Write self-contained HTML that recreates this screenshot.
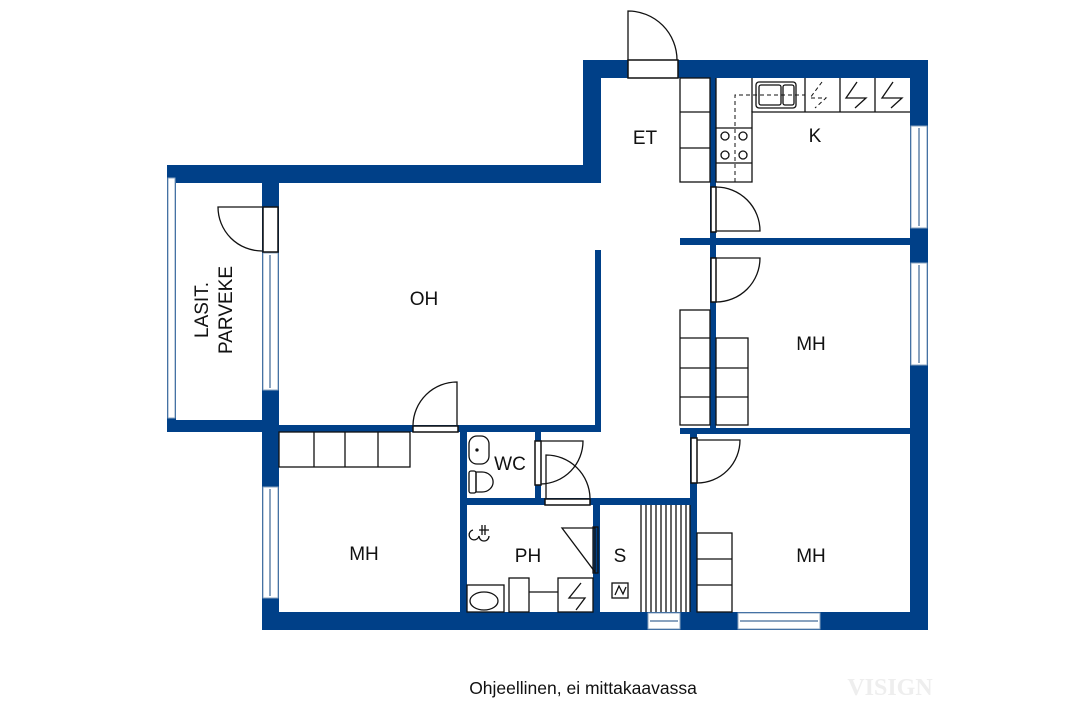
<!DOCTYPE html>
<html><head><meta charset="utf-8"><style>
html,body{margin:0;padding:0;background:#fff;}
svg{display:block;}
text{font-family:"Liberation Sans",sans-serif;fill:#111;}
</style></head><body>
<svg width="1066" height="711" viewBox="0 0 1066 711" xmlns="http://www.w3.org/2000/svg">
<g fill="#004088">
<rect x="583" y="60" width="345" height="18"/>
<rect x="583" y="60" width="18" height="122"/>
<rect x="167" y="165" width="434" height="18"/>
<rect x="167" y="165" width="9" height="267"/>
<rect x="167" y="420" width="112" height="12"/>
<rect x="262" y="165" width="17" height="465"/>
<rect x="910" y="60" width="18" height="570"/>
<rect x="262" y="612" width="666" height="18"/>
<rect x="595" y="250" width="6" height="182"/>
<rect x="262" y="425" width="339" height="7"/>
<rect x="460" y="425" width="7" height="200"/>
<rect x="460" y="498" width="237" height="7"/>
<rect x="535" y="432" width="6" height="70"/>
<rect x="593" y="505" width="7" height="110"/>
<rect x="690" y="428" width="7" height="190"/>
<rect x="680" y="428" width="230" height="6"/>
<rect x="710" y="78" width="6" height="356"/>
<rect x="680" y="238" width="230" height="7"/>
</g>
<g fill="#fff" stroke="#8aa3bf" stroke-width="1">
<rect x="263" y="253" width="15" height="137"/>
<rect x="263" y="487" width="15" height="111"/>
<rect x="168" y="178" width="7" height="240"/>
<rect x="911" y="126" width="16" height="102"/>
<rect x="911" y="263" width="16" height="102"/>
<rect x="648" y="613" width="32" height="16"/>
<rect x="738" y="613" width="82" height="16"/>
</g>
<g stroke="#8aa3bf" stroke-width="2">
<line x1="270" y1="255" x2="270" y2="388"/><line x1="270" y1="489" x2="270" y2="596"/>
<line x1="919" y1="128" x2="919" y2="226"/><line x1="919" y1="265" x2="919" y2="363"/>
<line x1="650" y1="621" x2="678" y2="621"/><line x1="740" y1="621" x2="818" y2="621"/>
</g>
<g fill="#fff" stroke="#111" stroke-width="1.5">
<rect x="628" y="60" width="50" height="18"/>
<rect x="263" y="207" width="15" height="45"/>
<rect x="711" y="187" width="5" height="45"/>
<rect x="711" y="258" width="5" height="44"/>
<rect x="691" y="438" width="6" height="45"/>
<rect x="413" y="426" width="45" height="6"/>
<rect x="535" y="441" width="6" height="44"/>
<rect x="545" y="499" width="45" height="6"/>
</g>
<g fill="none" stroke="#111" stroke-width="1.3">
<path d="M628 60 V11 A49 49 0 0 1 677 60"/>
<path d="M262 207 H218 A44 44 0 0 0 262 251"/>
<path d="M716 231 H760 A44 44 0 0 0 716 187"/>
<path d="M716 258 H760 A44 44 0 0 1 716 302"/>
<path d="M697 440 H740 A43 43 0 0 1 697 483"/>
<path d="M457 425 V382 A44 44 0 0 0 413 425"/>
<path d="M541 441 H583 A43 43 0 0 1 541 484"/>
<path d="M546 498 V455 A44 44 0 0 1 590 498"/>
<rect x="680" y="78" width="30" height="104"/>
<line x1="680" y1="112" x2="710" y2="112"/><line x1="680" y1="148" x2="710" y2="148"/>
<path d="M716 78 V182 H752 V112 H910"/>
<line x1="716" y1="128" x2="752" y2="128"/><line x1="716" y1="163" x2="752" y2="163"/>
<line x1="752" y1="78" x2="752" y2="112"/><line x1="805" y1="78" x2="805" y2="112"/>
<line x1="840" y1="78" x2="840" y2="112"/><line x1="875" y1="78" x2="875" y2="112"/>
<rect x="756" y="82" width="40" height="26" rx="3"/>
<rect x="759" y="85" width="22" height="20" rx="2"/><rect x="783" y="85" width="11" height="20" rx="2"/>
<path d="M735 182 V95 H805" stroke-dasharray="4 3" stroke-width="1"/>
<path d="M822 82 L810 98 H826 L815 108" stroke-dasharray="4 3" stroke-width="1"/>
<path d="M857 82 L846 98 H866 L855 108"/>
<path d="M893 82 L882 98 H902 L891 108"/>
<circle cx="725" cy="136" r="4"/><circle cx="743" cy="136" r="4"/>
<circle cx="725" cy="155" r="4"/><circle cx="743" cy="155" r="4"/>
<rect x="680" y="310" width="30" height="115"/>
<line x1="680" y1="338" x2="710" y2="338"/><line x1="680" y1="368" x2="710" y2="368"/><line x1="680" y1="397" x2="710" y2="397"/>
<rect x="716" y="338" width="32" height="87"/>
<line x1="716" y1="368" x2="748" y2="368"/><line x1="716" y1="397" x2="748" y2="397"/>
<rect x="279" y="432" width="131" height="35"/>
<line x1="314" y1="432" x2="314" y2="467"/><line x1="345" y1="432" x2="345" y2="467"/><line x1="378" y1="432" x2="378" y2="467"/>
<rect x="697" y="533" width="35" height="79"/>
<line x1="697" y1="559" x2="732" y2="559"/><line x1="697" y1="585" x2="732" y2="585"/>
<rect x="469" y="436" width="20" height="28" rx="8"/><circle cx="477" cy="450" r="1" fill="#111"/>
<path d="M476 472 h6 a10 9 0 0 1 0 20 h-6 z"/><rect x="469" y="471" width="7" height="22" rx="2"/>
<path d="M562 528 H595 V572 Z"/><rect x="593" y="527" width="5" height="46"/>
<rect x="558" y="578" width="35" height="34"/>
<path d="M581 583 L569 598 H585 L576 610"/>
<rect x="509" y="578" width="20" height="34"/>
<line x1="529" y1="592" x2="558" y2="592"/>
<rect x="467" y="585" width="37" height="27"/>
<ellipse cx="484" cy="601" rx="14" ry="9"/>
<path d="M473 530 a5 5 0 1 0 6 6 a5 5 0 1 0 10 0 M482 525 v10 M485 525 v10 M479 530 h10"/>
<rect x="612" y="583" width="16" height="15"/><path d="M615 595 L619 586 L623 594 L626 587"/>
</g>
<g stroke="#111" stroke-width="1.3">
<line x1="641" y1="505" x2="641" y2="612"/><line x1="646" y1="505" x2="646" y2="612"/><line x1="651" y1="505" x2="651" y2="612"/>
<line x1="656" y1="505" x2="656" y2="612"/><line x1="661" y1="505" x2="661" y2="612"/><line x1="666" y1="505" x2="666" y2="612"/>
<line x1="671" y1="505" x2="671" y2="612"/><line x1="676" y1="505" x2="676" y2="612"/><line x1="681" y1="505" x2="681" y2="612"/>
<line x1="686" y1="505" x2="686" y2="612"/><line x1="690" y1="505" x2="690" y2="612"/>
</g>
<g font-size="19">
<text x="645" y="144" text-anchor="middle">ET</text>
<text x="815" y="142" text-anchor="middle">K</text>
<text x="424" y="305" text-anchor="middle">OH</text>
<text x="811" y="350" text-anchor="middle">MH</text>
<text x="364" y="560" text-anchor="middle">MH</text>
<text x="811" y="562" text-anchor="middle">MH</text>
<text x="510" y="470" text-anchor="middle">WC</text>
<text x="528" y="562" text-anchor="middle">PH</text>
<text x="620" y="562" text-anchor="middle">S</text>
<text transform="translate(208,310) rotate(-90)" text-anchor="middle">LASIT.</text>
<text transform="translate(232,310) rotate(-90)" text-anchor="middle">PARVEKE</text>
</g>
<text x="583" y="694" font-size="17.5" text-anchor="middle">Ohjeellinen, ei mittakaavassa</text>
<text x="890" y="695" font-size="24" text-anchor="middle" style="font-family:'Liberation Serif',serif;fill:#eeeeee" font-weight="bold">VISIGN</text>
</svg>
</body></html>
